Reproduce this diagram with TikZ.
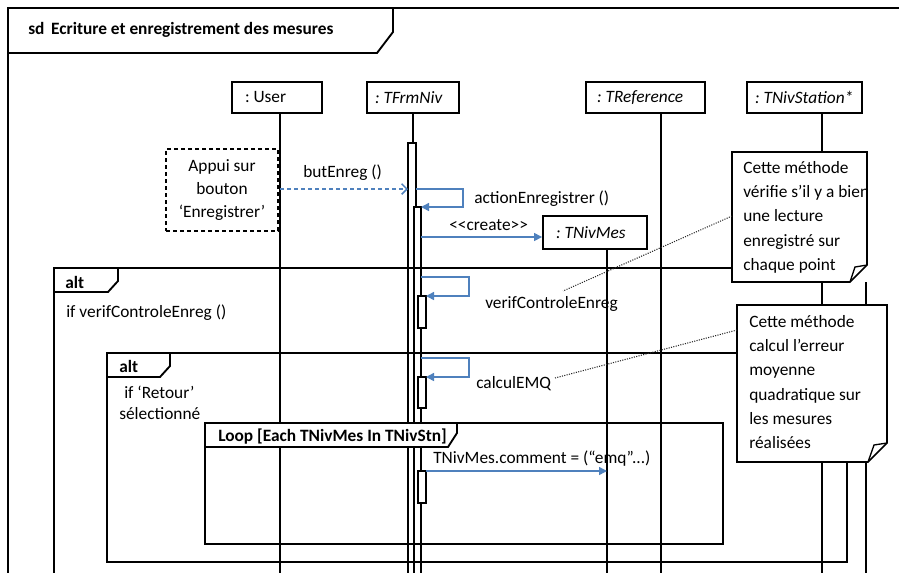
\documentclass[tikz,border=0pt]{standalone}
\usepackage{fontspec}
\setmainfont{Carlito}
\frenchspacing
\usetikzlibrary{arrows.meta}
\definecolor{msgblue}{RGB}{79,129,189}
\tikzset{
  txt/.style={font=\fontsize{13}{15}\selectfont},
  btxt/.style={font=\fontsize{13}{15}\selectfont\bfseries},
  frm/.style={line width=1.4pt},
  life/.style={line width=1.3pt},
  actbar/.style={draw, fill=white, line width=1.3pt},
  head/.style={txt, draw, fill=white, line width=1.4pt, inner ysep=0pt, minimum height=23.25pt},
  lbl/.style={txt, anchor=west, inner sep=0pt},
  blbl/.style={btxt, anchor=west, inner sep=0pt},
  msg/.style={draw=msgblue, line width=1.1pt, -{Triangle[length=6pt,width=6pt]}},
  dmsg/.style={draw=msgblue, line width=1.1pt, dash pattern=on 3pt off 2.25pt, -{Straight Barb[length=4pt,width=8pt]}},
  tabbox/.style={frm, fill=white},
  notebox/.style={line width=1.3pt},
  notetxt/.style={font=\fontsize{13}{18.2}\selectfont, align=left, anchor=north west, inner sep=0pt},
  anchorline/.style={line width=0.8pt, densely dotted, black!85}
}
\begin{document}
\begin{tikzpicture}[x=0.75pt,y=-0.75pt]
\useasboundingbox (0,0) rectangle (899,572);
\fill[white] (0,0) rectangle (899,572);
\clip (0,0) rectangle (899,572);

% outer frame
\draw[frm] (8,600) -- (8,8) -- (920,8);
\draw[tabbox] (8,8) -- (393,8) -- (393,32) -- (377,53) -- (8,53) -- cycle;
\node[blbl] (title) at (28,30) {sd\hspace{5pt}Ecriture et enregistrement des mesures};

% lifeline heads
\node[head, inner xsep=9.75pt] (user) at (277,97.5) {\makebox[48pt][l]{: User}};
\node[head, inner xsep=6pt] (frm) at (413,97.5) {\makebox[57pt][l]{\itshape : TFrmNiv}};
\node[head, inner xsep=8.25pt] (tref) at (645.5,97.5) {\makebox[72.75pt][l]{\itshape : TReference}};
\node[head, inner xsep=6pt] (tstat) at (804.5,97.5) {\makebox[74.25pt][l]{\itshape : TNivStation*}};
\node[head, minimum height=24.75pt, inner xsep=9.75pt] (tmes) at (595,232.5) {\makebox[58.5pt][l]{\itshape : TNivMes}};

% lifelines
\coordinate (userB) at (280,600);
\coordinate (frmB) at (413,143);
\coordinate (trefB) at (661,600);
\coordinate (tstatB) at (822,600);
\coordinate (tmesB) at (607,600);
\draw[life] (userB |- user.south) -- (userB);
\draw[life] (frmB |- frm.south) -- (frmB);
\draw[life] (trefB |- tref.south) -- (trefB);
\draw[life] (tstatB |- tstat.south) -- (tstatB);
\draw[life] (tmesB |- tmes.south) -- (tmesB);

% activation bars
\draw[actbar] (408,143) rectangle (416,600);
\draw[actbar] (414,207) rectangle (421,600);
\draw[actbar] (418,296) rectangle (426,328);
\draw[actbar] (418,377) rectangle (426,408);
\draw[actbar] (418,471) rectangle (426,503);

% combined fragments
\draw[frm] (54,600) -- (54,268) -- (866,268) -- (866,600);
\draw[frm] (107,353) rectangle (847,562);
\draw[frm] (205,423) rectangle (723,544);
\draw[tabbox] (54,268) -- (118,268) -- (118,281) -- (108,292) -- (54,292) -- cycle;
\draw[tabbox] (107,353) -- (170,353) -- (170,366) -- (160,377) -- (107,377) -- cycle;
\draw[tabbox] (205,423) -- (457,423) -- (457,433) -- (448,447) -- (205,447) -- cycle;
\node[blbl] (alt1) at (65,282) {alt};
\node[blbl] (alt2) at (119,366) {alt};
\node[blbl] (loop) at (218,437) {Loop [Each TNivMes In TNivStn]};
\node[lbl] (lif1) at (66,313) {if verifControleEnreg ()};
\node[lbl] (lif2) at (124,392) {if ‘Retour’};
\node[lbl] (lsel) at (119,414) {sélectionné};

% user note (dashed)
\node[txt, font=\fontsize{13}{17.6}\selectfont, draw, dashed, dash pattern=on 3pt off 2.25pt, line width=1.2pt, fill=white, minimum width=84pt, minimum height=61.5pt, align=center, inner sep=0pt] (unote) at (222,190) {Appui sur\\bouton\\‘Enregistrer’};

% comment notes
\fill[white] (732,152) rectangle (867,282);
\draw[notebox] (732,152) -- (867,152) -- (867,265) -- (850,282) -- (732,282) -- cycle;
\draw[line width=1pt] (850,282) -- (855,267) -- (867,265);
\begin{scope}
\clip (732,152) rectangle (866,282);
\node[notetxt] (note1) at (743,161) {Cette méthode\\vérifie s’il y a bien\\une lecture\\enregistré sur\\chaque point};
\end{scope}
\fill[white] (737,305) rectangle (887,462);
\draw[notebox] (737,305) -- (887,305) -- (887,443) -- (868,462) -- (737,462) -- cycle;
\draw[line width=1pt] (868,462) -- (874,445) -- (887,443);
\node[notetxt] (note2) at (749,315) {Cette méthode\\calcul l’erreur\\moyenne\\quadratique sur\\les mesures\\réalisées};

% messages
\coordinate (b1) at (280,189);
\coordinate (b2) at (408,189);
\draw[dmsg] (b1) -- (b2);
\node[lbl] (lbut) at (303,173) {butEnreg ()};

\coordinate (a1) at (416,189);
\coordinate (a2) at (463,207);
\coordinate (a3) at (421,207);
\draw[msg] (a1) -| (a2) -- (a3);
\node[lbl] (lact) at (474,199) {actionEnregistrer ()};

\coordinate (c1) at (421,237);
\draw[msg] (c1) -- (c1 -| tmes.west);
\node[lbl] (lcre) at (449,225) {<{}<create>{}>};

\coordinate (v1) at (421,277);
\coordinate (v2) at (469,296);
\coordinate (v3) at (426,296);
\draw[msg] (v1) -| (v2) -- (v3);
\node[lbl] (lver) at (485,304) {verifControleEnreg};

\coordinate (q1) at (421,358);
\coordinate (q2) at (469,377);
\coordinate (q3) at (426,377);
\draw[msg] (q1) -| (q2) -- (q3);
\node[lbl] (lcal) at (476,384) {calculEMQ};

\coordinate (m1) at (426,471);
\draw[msg] (m1) -- (m1 -| tmesB);
\node[lbl] (lcom) at (433,459) {TNivMes.comment = (“emq”...)};

% note anchors
\coordinate (n1a) at (732,216);
\coordinate (n1b) at (563,291);
\coordinate (n2a) at (737,330);
\coordinate (n2b) at (555,378);
\draw[anchorline] (n1a) -- (n1b);
\draw[anchorline] (n2a) -- (n2b);
\end{tikzpicture}
\end{document}
